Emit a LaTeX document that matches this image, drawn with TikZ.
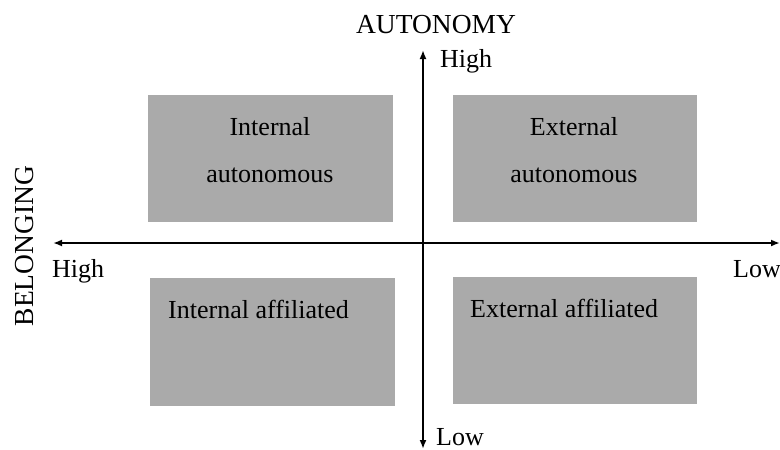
\documentclass[tikz,border=0pt]{standalone}
\usepackage{fontspec}
\setmainfont{Liberation Serif}
\usetikzlibrary{arrows.meta}
\definecolor{boxgray}{RGB}{170,170,170}
\begin{document}
\begin{tikzpicture}[x=1pt,y=-1pt,
  quad/.style={draw=none,fill=boxgray,rectangle,inner sep=0pt,anchor=north west},
  txt/.style={inner sep=0pt,font=\fontsize{26}{31}\selectfont},
  captxt/.style={inner sep=0pt,font=\fontsize{27.5}{33}\selectfont},
  axis/.style={line width=1.8pt,{Latex[length=9pt,width=7pt]}-{Latex[length=9pt,width=7pt]}}]
\useasboundingbox (0,0) rectangle (780,450);
% boxes
\node[quad,minimum width=245pt,minimum height=127pt] (tl) at (148,95) {};
\node[quad,minimum width=244pt,minimum height=127pt] (tr) at (453,95) {};
\node[quad,minimum width=245pt,minimum height=128pt] (bl) at (150,278) {};
\node[quad,minimum width=244pt,minimum height=127pt] (br) at (453,277) {};
% box texts
\node[txt,anchor=base] (tl1) at (270,135) {Internal};
\node[txt,anchor=base] (tl2) at (270,182) {autonomous};
\node[txt,anchor=base] (tr1) at (574,135) {External};
\node[txt,anchor=base] (tr2) at (574,182) {autonomous};
\node[txt,anchor=base west] (blt) at (168,318) {Internal affiliated};
\node[txt,anchor=base west] (brt) at (470,317) {External affiliated};
% axes
\coordinate (left) at (53,243);
\coordinate (right) at (780,243);
\coordinate (top) at (423,50);
\coordinate (bottom) at (423,449);
\draw[axis] (left) -- (right);
\draw[axis] (top) -- (bottom);
% axis labels
\node[captxt,anchor=base] (auto) at (436,33) {AUTONOMY};
\node[txt,anchor=base west] (hightop) at (440,67) {High};
\node[txt,anchor=base west] (lowbot) at (436,445) {Low};
\node[txt,anchor=base west] (highleft) at (52,277) {High};
\node[txt,anchor=base east] (lowright) at (781,277) {Low};
\node[captxt,anchor=base,rotate=90] (belong) at (33,246) {BELONGING};
\end{tikzpicture}
\end{document}
